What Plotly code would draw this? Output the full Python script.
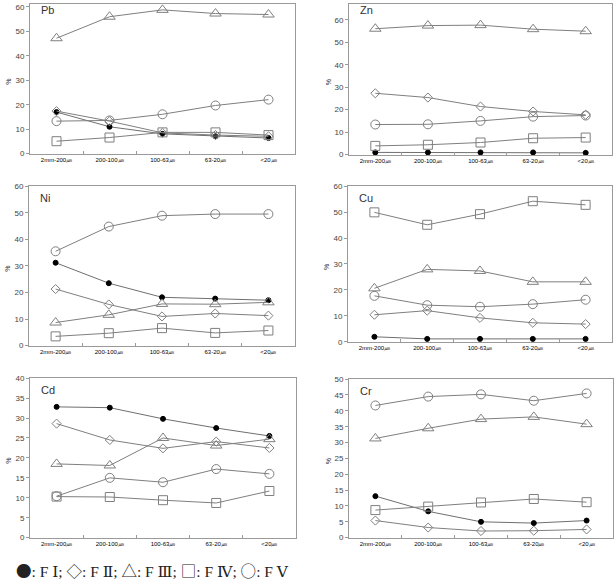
import plotly.graph_objects as go

categories = ["2mm-200㎛", "200-100㎛", "100-63㎛", "63-20㎛", "<20㎛"]

# Fractions: F I (●), F II (◇), F III (△), F IV (□), F V (○)
pb_f1 = [17.0, 11.0, 8.1, 7.1, 6.4]
pb_f2 = [17.4, 13.3, 8.5, 7.6, 7.1]
pb_f3 = [47.2, 56.0, 58.8, 57.3, 56.9]
pb_f4 = [5.1, 6.6, 8.7, 8.7, 7.6]
pb_f5 = [13.3, 13.6, 16.1, 19.7, 22.1]

zn_f1 = [1.0, 1.0, 1.0, 1.0, 0.8]
zn_f2 = [27.3, 25.4, 21.4, 19.2, 17.7]
zn_f3 = [56.0, 57.4, 57.6, 55.8, 54.9]
zn_f4 = [3.9, 4.4, 5.4, 7.3, 7.6]
zn_f5 = [13.4, 13.5, 15.0, 16.9, 17.4]

ni_f1 = [31.2, 23.5, 18.2, 17.7, 17.1]
ni_f2 = [21.3, 15.5, 11.0, 12.1, 11.3]
ni_f3 = [8.7, 11.6, 15.7, 15.6, 16.3]
ni_f4 = [3.5, 4.7, 6.6, 4.8, 5.7]
ni_f5 = [35.5, 44.8, 48.9, 49.5, 49.5]

cu_f1 = [1.9, 1.1, 1.1, 1.1, 1.1]
cu_f2 = [10.4, 12.0, 9.2, 7.3, 6.8]
cu_f3 = [20.6, 27.9, 27.3, 23.1, 23.1]
cu_f4 = [49.9, 45.1, 49.2, 54.2, 52.8]
cu_f5 = [17.7, 14.1, 13.5, 14.5, 16.2]

cd_f1 = [32.8, 32.6, 29.8, 27.5, 25.5]
cd_f2 = [28.6, 24.5, 22.4, 24.1, 22.5]
cd_f3 = [18.5, 18.1, 25.0, 23.1, 24.7]
cd_f4 = [10.3, 10.2, 9.4, 8.7, 11.7]
cd_f5 = [10.4, 15.0, 13.9, 17.2, 16.0]

cr_f1 = [13.1, 8.3, 5.0, 4.6, 5.4]
cr_f2 = [5.4, 3.2, 2.1, 2.2, 2.6]
cr_f3 = [31.3, 34.5, 37.4, 38.1, 35.8]
cr_f4 = [8.7, 9.8, 11.1, 12.2, 11.2]
cr_f5 = [41.7, 44.5, 45.2, 43.2, 45.5]

panel_names = ["Pb", "Zn", "Ni", "Cu", "Cd", "Cr"]
panel_data = [
    [pb_f1, pb_f2, pb_f3, pb_f4, pb_f5],
    [zn_f1, zn_f2, zn_f3, zn_f4, zn_f5],
    [ni_f1, ni_f2, ni_f3, ni_f4, ni_f5],
    [cu_f1, cu_f2, cu_f3, cu_f4, cu_f5],
    [cd_f1, cd_f2, cd_f3, cd_f4, cd_f5],
    [cr_f1, cr_f2, cr_f3, cr_f4, cr_f5],
]
legend_symbols = ["●", "◇", "△", "□", "○"]
legend_labels = ["F Ⅰ", "F Ⅱ", "F Ⅲ", "F Ⅳ", "F Ⅴ"]
y_ranges = [[0, 61.2], [0, 67], [0, 60], [0, 60], [0, 40], [0, 50]]
y_dticks = [10, 10, 10, 10, 5, 5]

W, H = 616, 586
# pixel boxes: left, right, top, bottom
boxes = [
    (30, 295, 0, 152),
    (349, 612, 0, 153),
    (29, 295, 185, 347),
    (348, 612, 185, 343),
    (30, 296, 380, 542),
    (349, 613, 381, 542),
]
title_y = [6, 6, 197, 197, 392, 393]

LINE = "#7f7f7f"
symbols = ["circle", "diamond-open", "triangle-up-open", "square-open", "circle-open"]
sizes = [5, 7, 10, 9, 9]

fig = go.Figure()
layout = {}
annotations = []
for i, (name, series) in enumerate(zip(panel_names, panel_data)):
    l, r, t, b = boxes[i]
    xa = "x" if i == 0 else f"x{i+1}"
    ya = "y" if i == 0 else f"y{i+1}"
    for j, vals in enumerate(series):
        mcolor = "black" if j == 0 else LINE
        fig.add_trace(go.Scatter(
            x=categories, y=vals, xaxis=xa, yaxis=ya, mode="lines+markers",
            line=dict(color="#6f6f6f" if j == 0 else LINE, width=1),
            marker=dict(symbol=symbols[j], size=sizes[j], color=mcolor,
                        line=dict(color=mcolor, width=1)),
            showlegend=False, cliponaxis=False,
        ))
    kx = "xaxis" if i == 0 else f"xaxis{i+1}"
    ky = "yaxis" if i == 0 else f"yaxis{i+1}"
    layout[kx] = dict(
        domain=[l / W, r / W], anchor=ya, type="category", range=[-0.5, 4.5],
        showline=True, linecolor="#9a9a9a", linewidth=1, mirror=True,
        ticks="inside", ticklen=3, tickcolor="#9a9a9a", tickson="boundaries",
        showgrid=False, zeroline=False,
        tickfont=dict(size=6, color="#000", family="Liberation Sans"),
    )
    layout[ky] = dict(
        domain=[1 - b / H, 1 - t / H], anchor=xa, range=y_ranges[i],
        dtick=y_dticks[i], tick0=0, showline=True, linecolor="#9a9a9a",
        linewidth=1, mirror=True, showgrid=False, zeroline=False,
        ticks="outside", ticklen=3, tickcolor="#9a9a9a",
        tickfont=dict(size=8, color="#444", family="Liberation Sans"),
    )
    annotations.append(dict(
        text=name, xref="paper", yref="paper",
        x=(l + 9) / W, y=1 - title_y[i] / H,
        xanchor="left", yanchor="middle", showarrow=False,
        font=dict(size=11, color="#333", family="Liberation Sans"),
    ))
    annotations.append(dict(
        text="%", xref="paper", yref="paper",
        x=(l - 21) / W, y=1 - ((t + b) / 2 + 3) / H, textangle=-90,
        xanchor="center", yanchor="middle", showarrow=False,
        font=dict(size=7, color="#333", family="Liberation Sans"),
    ))

legend_text = "; ".join(
    f"<span style='font-family:Noto Sans CJK KR'>{s}</span>: {lab}"
    for s, lab in zip(legend_symbols, legend_labels)
)
annotations.append(dict(
    text=legend_text, xref="paper", yref="paper",
    x=14 / W, y=1 - 575 / H, xanchor="left", yanchor="middle", showarrow=False,
    font=dict(size=15.5, color="#222", family="Liberation Serif, DejaVu Serif, serif"),
))

fig.update_layout(
    width=W, height=H, margin=dict(l=0, r=0, t=0, b=0),
    paper_bgcolor="white", plot_bgcolor="white",
    annotations=annotations, **layout,
)
fig.write_html("out.html")
